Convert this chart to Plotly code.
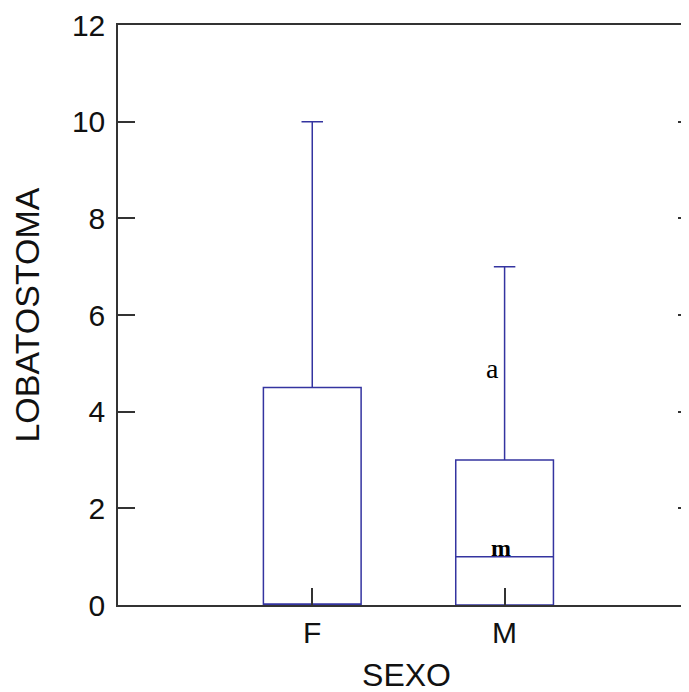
import plotly.graph_objects as go

categories = ["F", "M"]
q1 = [0, 0]
median = [0, 1]
q3 = [4.5, 3]
lower = [0, 0]
upper = [10, 7]
y_ticks = [0, 2, 4, 6, 8, 10, 12]

box_color = "#3434a0"
axis_color = "#333333"

fig = go.Figure()
fig.add_trace(go.Box(
    x=categories, q1=q1, median=median, q3=q3,
    lowerfence=lower, upperfence=upper,
    width=0.508, whiskerwidth=0.22,
    line=dict(color=box_color, width=1.5),
    fillcolor="rgba(0,0,0,0)",
    boxpoints=False, showlegend=False, hoverinfo="skip",
))

fig.add_annotation(x="M", y=4.9, text="a", showarrow=False, xshift=-12,
                   font=dict(family="Liberation Serif, Times New Roman, serif", size=28, color="black"))
fig.add_annotation(x="M", y=1, text="<b>m</b>", showarrow=False, xshift=-4, yanchor="bottom", yshift=-6,
                   font=dict(family="Liberation Serif, Times New Roman, serif", size=24, color="black"))

fig.update_layout(
    width=689, height=692,
    margin=dict(l=110, r=0, t=11, b=95),
    paper_bgcolor="white", plot_bgcolor="white",
    font=dict(family="Liberation Sans, Arial, sans-serif", size=30, color="#111111"),
    xaxis=dict(
        type="category", range=[-1.01, 1.99],
        showline=True, linecolor=axis_color, linewidth=1.5, mirror=True,
        ticks="inside", ticklen=17, tickcolor=axis_color, tickwidth=1.5,
        showgrid=False, zeroline=False,
        title=dict(text="SEXO", font=dict(size=32), standoff=16),
        tickfont=dict(size=30),
    ),
    yaxis=dict(
        range=[0, 12], tickvals=y_ticks,
        showline=True, linecolor=axis_color, linewidth=1.5, mirror="ticks",
        ticks="inside", ticklen=17, tickcolor=axis_color, tickwidth=1.5,
        showgrid=False, zeroline=False,
        ticklabelstandoff=5, ticklabeloverflow="allow",
        title=dict(text="LOBATOSTOMA", font=dict(size=34), standoff=22),
        tickfont=dict(size=30),
    ),
)

fig.write_html("out.html")
